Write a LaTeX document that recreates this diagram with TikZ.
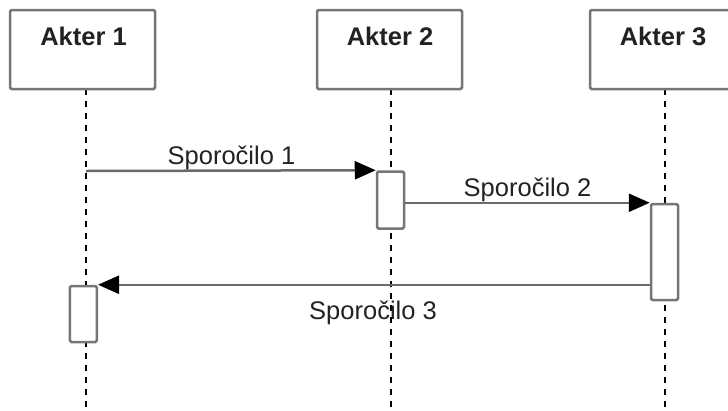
\documentclass[tikz,border=0pt]{standalone}
\usepackage{fontspec}
\setmainfont{Liberation Sans}
\usetikzlibrary{arrows.meta}
\definecolor{boxgray}{HTML}{767676}
\definecolor{linegray}{HTML}{6A6A6A}
\definecolor{txt}{HTML}{222222}
\begin{document}
\begin{tikzpicture}[x=1pt,y=-1pt,
  actor/.style={draw=boxgray,line width=2.5pt,fill=white,rounded corners=1.5pt,minimum width=145pt,minimum height=79pt,inner sep=0pt},
  actortext/.style={font=\fontsize{25.5}{30}\selectfont\bfseries,text=txt,anchor=base,inner sep=0pt},
  act/.style={draw=boxgray,line width=2.5pt,fill=white,rounded corners=1.5pt,minimum width=27pt,inner sep=0pt},
  life/.style={draw=black,line width=2pt,dash pattern=on 6pt off 6pt},
  msg/.style={draw=linegray,line width=2.5pt,-{Triangle[length=21pt,width=18pt,color=black]}},
  msgtext/.style={font=\fontsize{25.5}{30}\selectfont,text=txt,anchor=base,inner sep=0pt}]
\useasboundingbox (0,0) rectangle (728,410);
\clip (0,0) rectangle (728,410);
% lifelines
\coordinate (l1t) at (86,89); \coordinate (l1b) at (86,410);
\coordinate (l2t) at (391,89); \coordinate (l2b) at (391,410);
\coordinate (l3t) at (665,89); \coordinate (l3b) at (665,410);
\draw[life] (l1t) -- (l1b);
\draw[life] (l2t) -- (l2b);
\draw[life] (l3t) -- (l3b);
% actors
\node[actor] (a1) at (82.5,49.5) {};
\node[actor] (a2) at (389.5,49.5) {};
\node[actor] (a3) at (662.5,49.5) {};
\node[actortext] (t1) at (83.5,45) {Akter 1};
\node[actortext] (t2) at (390,45) {Akter 2};
\node[actortext] (t3) at (663,45) {Akter 3};
% activations
\node[act,minimum height=57pt] (act2) at (390.5,200) {};
\node[act,minimum height=96pt] (act3) at (664.5,252) {};
\node[act,minimum height=56pt] (act1) at (83.3,314) {};
% messages
\coordinate (m1s) at (86,171);
\draw[msg] (m1s) -- (act2.north west);
\draw[msg] (act2.east |- act3.north) -- (act3.north west);
\draw[msg] (act3.west |- act1.north) -- (act1.north east);
\node[msgtext] (s1) at (231.5,164) {Sporočilo 1};
\node[msgtext] (s2) at (527.5,196.5) {Sporočilo 2};
\node[msgtext] (s3) at (373,319.5) {Sporočilo 3};
\end{tikzpicture}
\end{document}
